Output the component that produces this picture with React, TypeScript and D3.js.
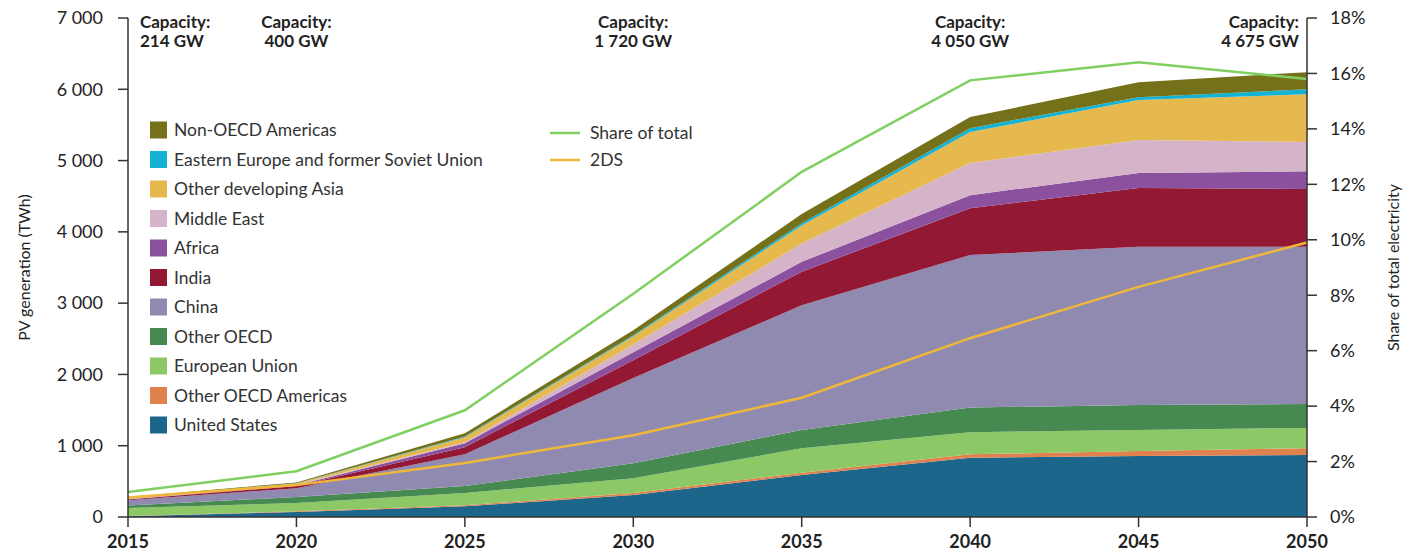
import React from "react";
import * as d3 from "d3";

const years = [2015, 2020, 2025, 2030, 2035, 2040, 2045, 2050];

const seriesNames = [
  "United States",
  "Other OECD Americas",
  "European Union",
  "Other OECD",
  "China",
  "India",
  "Africa",
  "Middle East",
  "Other developing Asia",
  "Eastern Europe and former Soviet Union",
  "Non-OECD Americas",
];

const unitedStates = [10, 70, 150, 310, 590, 830, 855, 870];
const otherOecdAmericas = [5, 10, 15, 25, 30, 50, 70, 95];
const europeanUnion = [110, 116, 170, 210, 345, 310, 295, 285];
const otherOecd = [35, 84, 100, 210, 255, 345, 350, 335];
const china = [75, 125, 445, 1195, 1750, 2140, 2220, 2205];
const india = [10, 30, 100, 250, 470, 655, 825, 810];
const africa = [5, 10, 55, 110, 140, 185, 210, 250];
const middleEast = [5, 10, 15, 110, 255, 450, 465, 410];
const otherDevelopingAsia = [13, 15, 70, 115, 255, 435, 560, 670];
const easternEuropeFsu = [2, 5, 10, 15, 30, 55, 40, 70];
const nonOecdAmericas = [10, 10, 45, 70, 130, 155, 210, 240];

const shareOfTotal = [0.9, 1.65, 3.85, 8.05, 12.45, 15.75, 16.4, 15.8];
const twoDS = [0.7, 1.15, 1.95, 2.95, 4.3, 6.45, 8.3, 9.9];

const leftTicks = [0, 1000, 2000, 3000, 4000, 5000, 6000, 7000];
const rightTicks = [0, 2, 4, 6, 8, 10, 12, 14, 16, 18];

const capacityYears = [2015, 2020, 2030, 2040, 2050];
const capacityLabels = ["214 GW", "400 GW", "1 720 GW", "4 050 GW", "4 675 GW"];

const seriesValues = [
  unitedStates,
  otherOecdAmericas,
  europeanUnion,
  otherOecd,
  china,
  india,
  africa,
  middleEast,
  otherDevelopingAsia,
  easternEuropeFsu,
  nonOecdAmericas,
];

const colors = [
  "#1c668c",
  "#e0814e",
  "#8cc866",
  "#468a52",
  "#918ab0",
  "#921834",
  "#8b519f",
  "#d5b3c9",
  "#e6b94f",
  "#14b3d5",
  "#74711a",
];

const W = 1416;
const H = 554;
const FONT = "Lato, 'Open Sans', sans-serif";

export default function App() {
  const x = d3.scaleLinear().domain([2015, 2050]).range([128, 1307]);
  const yL = d3.scaleLinear().domain([0, 7000]).range([517, 18]);
  const yR = d3.scaleLinear().domain([0, 18]).range([517, 18]);

  const table = years.map((yr, i) => {
    const row: any = { year: yr };
    seriesNames.forEach((n, j) => (row[n] = seriesValues[j][i]));
    return row;
  });
  const stacked = d3.stack().keys(seriesNames)(table as any);
  const area = d3
    .area<any>()
    .x((d) => x(d.data.year))
    .y0((d) => yL(d[0]))
    .y1((d) => yL(d[1]));

  const line = d3
    .line<number>()
    .x((_, i) => x(years[i]))
    .y((d) => yR(d));

  const legendTop = 130;
  const legendStep = 29.5;
  const legendOrder = seriesNames.map((_, i) => seriesNames.length - 1 - i);

  const fmt = (t: number) => d3.format(",")(t).replace(",", " ");

  return (
    <svg
      width={W}
      height={H}
      style={{ position: "absolute", left: 0, top: 0, background: "#fff" }}
      fontFamily={FONT}
    >
      {stacked.map((s, i) => (
        <path key={seriesNames[i]} d={area(s as any) || ""} fill={colors[i]} />
      ))}
      <path d={line(twoDS) || ""} fill="none" stroke="#efb73a" strokeWidth={2.5} />
      <path d={line(shareOfTotal) || ""} fill="none" stroke="#80cf62" strokeWidth={2.5} />

      {/* left axis */}
      <line x1={x(2015)} x2={x(2015)} y1={yL(7000)} y2={yL(0)} stroke="#333" strokeWidth={1.5} />
      {leftTicks.map((t) => (
        <g key={"l" + t}>
          <line x1={x(2015) - 10} x2={x(2015)} y1={yL(t)} y2={yL(t)} stroke="#333" strokeWidth={1.5} />
          <text x={x(2015) - 25} y={yL(t)} dy="0.35em" textAnchor="end" fontSize={18} fill="#222">
            {fmt(t)}
          </text>
        </g>
      ))}
      <text
        transform={`translate(24,${yL(3500)}) rotate(-90)`}
        textAnchor="middle"
        fontSize={16}
        fill="#222"
        dy="0.35em"
      >
        PV generation (TWh)
      </text>

      {/* right axis */}
      <line x1={x(2050)} x2={x(2050)} y1={yR(18)} y2={yR(0)} stroke="#333" strokeWidth={1.5} />
      {rightTicks.map((t) => (
        <g key={"r" + t}>
          <line x1={x(2050)} x2={x(2050) + 10} y1={yR(t)} y2={yR(t)} stroke="#333" strokeWidth={1.5} />
          <text x={x(2050) + 23} y={yR(t)} dy="0.35em" textAnchor="start" fontSize={18} fill="#222">
            {t}%
          </text>
        </g>
      ))}
      <text
        transform={`translate(1393,${yR(9)}) rotate(-90)`}
        textAnchor="middle"
        fontSize={16}
        fill="#222"
        dy="0.35em"
      >
        Share of total electricity
      </text>

      {/* bottom axis */}
      <line x1={x(2015)} x2={x(2050)} y1={yL(0)} y2={yL(0)} stroke="#333" strokeWidth={1.5} />
      {years.map((t) => (
        <g key={"x" + t}>
          <line x1={x(t)} x2={x(t)} y1={yL(0)} y2={yL(0) + 10} stroke="#333" strokeWidth={1.5} />
          <text x={x(t)} y={548} textAnchor="middle" fontSize={18} fontWeight={700} fill="#222">
            {t}
          </text>
        </g>
      ))}

      {/* capacity annotations */}
      {capacityYears.map((yr, i) => {
        const anchor = i === 0 ? "start" : i === capacityYears.length - 1 ? "end" : "middle";
        const px = i === 0 ? x(yr) + 12 : i === capacityYears.length - 1 ? x(yr) - 8 : x(yr);
        return (
          <text key={"c" + yr} x={px} textAnchor={anchor} fontSize={17} fontWeight={700} fill="#222">
            <tspan x={px} y={28}>Capacity:</tspan>
            <tspan x={px} y={47}>{capacityLabels[i]}</tspan>
          </text>
        );
      })}

      {/* legend areas */}
      {legendOrder.map((si, k) => (
        <g key={"lg" + si} transform={`translate(150,${legendTop + k * legendStep})`}>
          <rect x={0} y={-8.5} width={17} height={17} fill={colors[si]} />
          <text x={24} y={0} dy="0.35em" fontSize={17.5} fill="#333">
            {seriesNames[si]}
          </text>
        </g>
      ))}

      {/* legend lines */}
      <g transform="translate(550,133)">
        <line x1={0} x2={30} y1={0} y2={0} stroke="#80cf62" strokeWidth={2.5} />
        <text x={40} y={0} dy="0.35em" fontSize={17.5} fill="#333">Share of total</text>
      </g>
      <g transform="translate(550,160)">
        <line x1={0} x2={30} y1={0} y2={0} stroke="#efb73a" strokeWidth={2.5} />
        <text x={40} y={0} dy="0.35em" fontSize={17.5} fill="#333">2DS</text>
      </g>
    </svg>
  );
}
